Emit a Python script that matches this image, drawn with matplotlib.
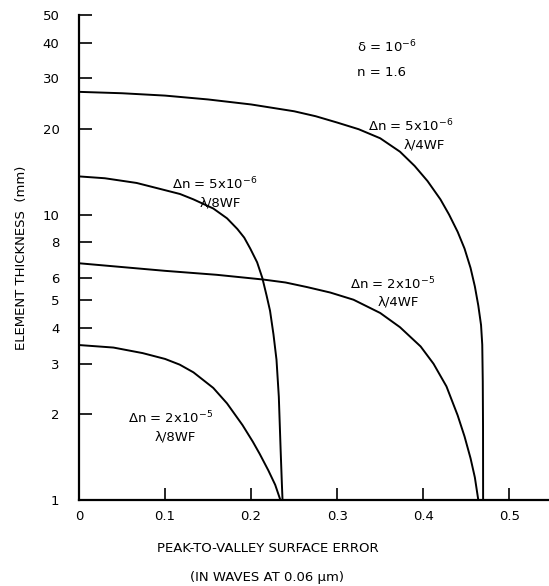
import matplotlib
matplotlib.use("Agg")
import matplotlib.pyplot as plt
from matplotlib.ticker import FixedLocator, NullLocator

# curve readings: peak-to-valley error (waves) vs element thickness (mm)
# dn = 5e-6, lambda/4 wavefront
err_a = [0.0, 0.05, 0.1, 0.15, 0.2, 0.25, 0.275, 0.3, 0.325, 0.35, 0.373, 0.39, 0.405,
         0.42, 0.43, 0.44, 0.448, 0.455, 0.46, 0.464, 0.4672, 0.4686, 0.4692, 0.4695, 0.4696]
thk_a = [26.9, 26.6, 26.1, 25.3, 24.3, 23.0, 22.1, 21.0, 19.9, 18.5, 16.6, 14.8, 13.1,
         11.3, 10.0, 8.7, 7.6, 6.5, 5.6, 4.8, 4.1, 3.5, 2.6, 1.8, 1.0]

# dn = 5e-6, lambda/8 wavefront
err_b = [0.0, 0.03, 0.067, 0.094, 0.1174, 0.133, 0.156, 0.172, 0.184, 0.192, 0.199, 0.207,
         0.213, 0.218, 0.222, 0.226, 0.2295, 0.2322, 0.2343, 0.2357, 0.2365]
thk_b = [13.6, 13.4, 12.9, 12.3, 11.8, 11.3, 10.5, 9.7, 8.9, 8.3, 7.6, 6.8,
         6.0, 5.2, 4.6, 3.8, 3.1, 2.3, 1.5, 1.15, 1.0]

# dn = 2e-5, lambda/4 wavefront
err_c = [0.0, 0.1, 0.16, 0.214, 0.24, 0.265, 0.292, 0.319, 0.35, 0.373, 0.397, 0.412,
         0.427, 0.44, 0.448, 0.455, 0.46, 0.464]
thk_c = [6.75, 6.35, 6.15, 5.92, 5.78, 5.57, 5.33, 5.03, 4.52, 4.03, 3.45, 3.0,
         2.5, 1.98, 1.67, 1.4, 1.2, 1.0]

# dn = 2e-5, lambda/8 wavefront
err_d = [0.0, 0.04, 0.074, 0.1, 0.117, 0.133, 0.156, 0.172, 0.19, 0.202, 0.21, 0.22,
         0.228, 0.234]
thk_d = [3.49, 3.42, 3.27, 3.12, 2.98, 2.8, 2.47, 2.18, 1.83, 1.6, 1.45, 1.27,
         1.13, 1.0]

y_ticks = [1, 2, 3, 4, 5, 6, 8, 10, 20, 30, 40, 50]
x_ticks = [0, 0.1, 0.2, 0.3, 0.4, 0.5]
x_tick_labels = ["0", "0.1", "0.2", "0.3", "0.4", "0.5"]

W, H = 549, 586


def px(x, y):
    """Pixel position (from top-left) to figure fraction."""
    return x / W, 1 - y / H


plt.rcParams["font.family"] = "DejaVu Sans"
fig = plt.figure(figsize=(W / 100, H / 100), dpi=100)
left, bottom = px(79, 500)
right, top = px(548, 15)
ax = fig.add_axes([left, bottom, right - left, top - bottom])

for xs, ys in [(err_a, thk_a), (err_b, thk_b), (err_c, thk_c), (err_d, thk_d)]:
    ax.plot(xs, ys, color="black", lw=1.4)

ax.set_yscale("log")
ax.set_ylim(1, 50)
ax.set_xlim(0, 0.545)
ax.yaxis.set_major_locator(FixedLocator(y_ticks))
ax.yaxis.set_minor_locator(NullLocator())
ax.set_yticklabels([str(t) for t in y_ticks])
ax.set_xticks(x_ticks)
ax.set_xticklabels(x_tick_labels)
ax.tick_params(direction="in", length=9, width=1.2, labelsize=9.5, pad=7)
ax.tick_params(axis="y", pad=14)
ax.spines["top"].set_visible(False)
ax.spines["right"].set_visible(False)
ax.spines["left"].set_linewidth(1.6)
ax.spines["bottom"].set_linewidth(1.6)

fig.text(*px(22, 258), "ELEMENT THICKNESS  (mm)", rotation=90, ha="center", va="center",
         fontsize=9.5)
fig.text(*px(268, 549), "PEAK-TO-VALLEY SURFACE ERROR", ha="center", va="center", fontsize=9.5)
fig.text(*px(267, 577), "(IN WAVES AT 0.06 µm)", ha="center", va="center", fontsize=9.5)

fs = 9.5
fig.text(*px(357, 47), "δ = 10$^{-6}$", ha="left", va="center", fontsize=fs)
fig.text(*px(357, 72), "n = 1.6", ha="left", va="center", fontsize=fs)
fig.text(*px(368, 126), "Δn = 5x10$^{-6}$", ha="left", va="center", fontsize=fs)
fig.text(*px(404, 145), "λ/4WF", ha="left", va="center", fontsize=fs)
fig.text(*px(172, 184), "Δn = 5x10$^{-6}$", ha="left", va="center", fontsize=fs)
fig.text(*px(200, 203), "λ/8WF", ha="left", va="center", fontsize=fs)
fig.text(*px(350, 284), "Δn = 2x10$^{-5}$", ha="left", va="center", fontsize=fs)
fig.text(*px(378, 302), "λ/4WF", ha="left", va="center", fontsize=fs)
fig.text(*px(128, 418), "Δn = 2x10$^{-5}$", ha="left", va="center", fontsize=fs)
fig.text(*px(155, 437), "λ/8WF", ha="left", va="center", fontsize=fs)

fig.savefig("out.png", dpi=100)
